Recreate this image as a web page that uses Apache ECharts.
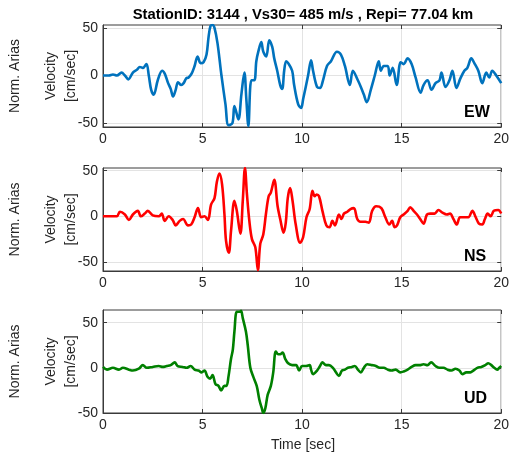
<!DOCTYPE html>
<html><head><meta charset="utf-8">
<script src="https://cdn.jsdelivr.net/npm/echarts@6/dist/echarts.min.js"></script>
<style>html,body{margin:0;padding:0;background:#fff}#c{width:512px;height:457px}</style>
</head><body><div id="c"></div>
<script>
const titleText = 'StationID: 3144 , Vs30= 485 m/s , Repi= 77.04 km';
const xTicks = [0, 5, 10, 15, 20];
const yTicks = [-50, 0, 50];
const componentNames = ['EW', 'NS', 'UD'];
const lineColors = ['#0072BD', '#FF0000', '#008000'];

const ewTime = [0,0.3,0.5,0.7,0.93,1.1,1.27,1.5,1.7,1.85,2.0,2.18,2.3,2.42,2.55,2.75,2.97,3.1,3.27,3.4,3.52,3.65,3.77,3.93,4.05,4.18,4.3,4.45,4.6,4.75,4.9,5.05,5.2,5.3,5.4,5.5,5.6,5.75,5.95,6.15,6.3,6.5,6.6,6.8,6.95,7.1,7.2,7.3,7.45,7.6,7.7,7.8,7.95,8.05,8.2,8.35,8.5,8.6,8.75,8.9,9.0,9.1,9.2,9.3,9.5,9.6,9.8,9.95,10.05,10.3,10.45,10.55,10.75,10.9,11.05,11.25,11.45,11.75,11.95,12.15,12.4,12.55,12.8,12.95,13.1,13.25,13.45,13.65,13.85,13.95,14.1,14.3,14.4,14.55,14.75,14.95,15.1,15.3,15.5,15.7,15.95,16.1,16.3,16.5,16.7,16.9,17.0,17.2,17.4,17.55,17.75,17.95,18.15,18.3,18.5,18.65,18.85,19.05,19.25,19.4,19.55,19.75,20];
const ewVel = [0,0,1,0,3,0,-4,3,6,9,8,12,0,-15,-20,-5,5,2,-8,-14,-22,-15,-7,-10,-8,-3,-2,2,10,20,13,14,22,40,52,53,50,34,0,-30,-52,-50,-32,-46,-20,3,-25,-53,-5,-5,15,25,35,25,20,37,30,18,5,-10,-14,5,15,13,5,-10,-30,-34,-25,0,16,5,-12,-13,-5,10,15,25,22,10,-10,5,-5,-12,-20,-28,-15,0,15,5,10,10,0,8,-10,14,12,18,12,-2,-18,-10,-5,-15,-8,-5,3,-12,-5,5,-13,-3,5,8,18,13,5,-8,3,-2,5,0,-8];

const nsTime = [0,0.4,0.7,0.85,1.1,1.3,1.5,1.75,1.9,2.1,2.25,2.5,2.8,2.95,3.1,3.3,3.5,3.65,3.85,4.02,4.27,4.43,4.6,4.77,4.93,5.1,5.27,5.43,5.6,5.72,5.85,5.98,6.1,6.18,6.32,6.43,6.6,6.72,6.9,7.02,7.13,7.23,7.35,7.48,7.65,7.78,7.9,8.05,8.18,8.32,8.43,8.6,8.77,8.9,9.07,9.18,9.28,9.4,9.52,9.68,9.9,10.05,10.22,10.38,10.52,10.63,10.73,10.85,11.02,11.22,11.38,11.52,11.65,11.85,11.98,12.1,12.27,12.43,12.6,12.77,12.93,13.18,13.35,13.52,13.72,13.98,14.18,14.38,14.52,14.65,14.77,14.93,15.1,15.3,15.43,15.6,15.77,15.93,16.1,16.27,16.43,16.65,16.85,17.05,17.27,17.43,17.6,17.77,17.93,18.15,18.35,18.55,18.72,18.88,19.05,19.18,19.32,19.47,19.63,19.85,20];
const nsVel = [0,0,0,5,2,-4,2,6,0,3,6,1,0,3,-5,0,-4,-10,-5,-3,-10,-9,-1,9,-1,0,-4,13,20,38,47,35,2,-27,-40,-16,17,6,-19,17,53,24,-5,-25,-34,-59,-30,-20,2,22,26,40,11,-3,-18,-7,20,31,17,-9,-29,-23,-1,8,28,22,24,22,6,-10,-12,-5,-10,2,-3,3,5,8,9,-3,-6,-6,-7,6,11,9,-1,-9,-5,-12,-10,-1,2,6,10,6,2,-3,-8,2,3,3,7,4,2,3,-3,-9,-1,-1,-1,6,-1,-8,-9,-3,3,0,6,7,3];

const udTime = [0,0.2,0.5,0.8,1.0,1.3,1.5,1.8,2.0,2.2,2.5,2.8,3.0,3.2,3.4,3.6,3.75,4.0,4.2,4.4,4.6,4.8,4.95,5.1,5.25,5.38,5.5,5.65,5.8,5.93,6.1,6.2,6.3,6.43,6.52,6.6,6.72,6.85,6.93,7.02,7.18,7.27,7.4,7.55,7.72,7.85,7.98,8.05,8.15,8.27,8.43,8.55,8.68,8.8,8.9,9.02,9.15,9.3,9.5,9.7,9.85,10.0,10.2,10.38,10.45,10.55,10.75,10.9,11.02,11.2,11.35,11.55,11.7,11.85,12.0,12.15,12.3,12.5,12.65,12.8,12.95,13.1,13.27,13.5,13.7,13.9,14.1,14.3,14.5,14.7,14.93,15.1,15.3,15.5,15.7,15.9,16.1,16.3,16.48,16.7,16.9,17.1,17.3,17.5,17.7,17.9,18.05,18.25,18.45,18.6,18.8,19.0,19.2,19.35,19.5,19.65,19.8,19.9,20];
const udVel = [1,-2,0,-2,0,-2,-3,-1,3,0,1,2,1,2,3,6,2,1,0,2,-2,-3,-5,-3,-10,-12,-8,-18,-20,-25,-20,-20,-10,10,20,40,62,62,63,55,40,25,0,-10,-20,-35,-45,-50,-45,-30,-20,-5,18,15,15,17,10,5,3,3,-3,2,2,3,-2,-7,-3,2,6,3,3,0,-5,-9,-3,-2,0,1,2,-2,-5,0,4,3,2,0,0,-2,-3,-2,-5,-4,-2,1,3,3,4,3,6,2,0,0,-2,-3,-1,-3,-7,-5,-5,-3,0,1,3,5,3,0,-2,0,2];

const yRanges = [[-54, 53], [-60, 53], [-50, 64]];
const times = [ewTime, nsTime, udTime];
const vels = [ewVel, nsVel, udVel];

const gridTops = [25, 168, 310];
const gridHeights = [102, 103, 103];
const axisColor = '#262626';
const fontFam = 'Liberation Sans, Arial, Helvetica, sans-serif';

const grids = [], xAxes = [], yAxes = [], series = [], graphics = [];
for (let i = 0; i < 3; i++) {
  grids.push({left: 103, top: gridTops[i], width: 400, height: gridHeights[i], show: true,
    borderColor: '#3a3a3a', borderWidth: 1, backgroundColor: 'transparent'});
  xAxes.push({type: 'value', gridIndex: i, min: 0, max: 20, interval: 5, position: 'bottom',
    axisLine: {show: true, onZero: false, lineStyle: {color: '#3a3a3a', width: 1}},
    axisTick: {show: true, inside: true, length: 4, lineStyle: {color: '#3a3a3a'}},
    axisLabel: {color: axisColor, fontSize: 14, fontFamily: fontFam, margin: 5},
    splitLine: {show: true, lineStyle: {color: '#e3e3e3', width: 1}}});
  xAxes.push({type: 'value', gridIndex: i, min: 0, max: 20, interval: 5, position: 'top',
    axisLine: {show: false, onZero: false}, axisTick: {show: true, inside: true, length: 4, lineStyle: {color: '#3a3a3a'}},
    axisLabel: {show: false}, splitLine: {show: false}});
  yAxes.push({type: 'value', gridIndex: i, min: yRanges[i][0], max: yRanges[i][1], position: 'left',
    axisLine: {show: true, onZero: false, lineStyle: {color: '#3a3a3a', width: 1}},
    axisTick: {show: true, inside: true, length: 4, customValues: yTicks, lineStyle: {color: '#3a3a3a'}},
    axisLabel: {color: axisColor, fontSize: 14, fontFamily: fontFam, margin: 5, customValues: yTicks},
    splitLine: {show: true, lineStyle: {color: '#e3e3e3', width: 1}}});
  yAxes.push({type: 'value', gridIndex: i, min: yRanges[i][0], max: yRanges[i][1], position: 'right',
    axisLine: {show: false, onZero: false},
    axisTick: {show: true, inside: true, length: 4, customValues: yTicks, lineStyle: {color: '#3a3a3a'}},
    axisLabel: {show: false, customValues: yTicks}, splitLine: {show: false}});
  series.push({type: 'line', xAxisIndex: 2 * i, yAxisIndex: 2 * i, showSymbol: false, smooth: 0.35,
    clip: true, lineStyle: {color: lineColors[i], width: 2.6}, z: 5,
    data: times[i].map((t, k) => [t, vels[i][k]])});
  const cy = gridTops[i] + gridHeights[i] / 2;
  graphics.push({type: 'text', x: 51, y: cy, rotation: Math.PI / 2,
    style: {text: 'Velocity', fontSize: 14, fontFamily: fontFam, fill: axisColor, align: 'center', verticalAlign: 'middle'}});
  graphics.push({type: 'text', x: 71, y: cy, rotation: Math.PI / 2,
    style: {text: '[cm/sec]', fontSize: 14, fontFamily: fontFam, fill: axisColor, align: 'center', verticalAlign: 'middle'}});
  graphics.push({type: 'text', x: 15, y: cy, rotation: Math.PI / 2,
    style: {text: 'Norm. Arias', fontSize: 14, fontFamily: fontFam, fill: axisColor, align: 'center', verticalAlign: 'middle'}});
  graphics.push({type: 'text', x: 464, y: gridTops[i] + gridHeights[i] - 14, z: 10,
    style: {text: componentNames[i], fontSize: 16, fontWeight: 'bold', fontFamily: fontFam, fill: '#000', align: 'left', verticalAlign: 'middle'}});
}
graphics.push({type: 'text', x: 303, y: 15,
  style: {text: titleText, fontSize: 14.8, fontWeight: 'bold', fontFamily: fontFam, fill: '#000', align: 'center', verticalAlign: 'middle'}});
graphics.push({type: 'text', x: 303, y: 445,
  style: {text: 'Time [sec]', fontSize: 14, fontFamily: fontFam, fill: axisColor, align: 'center', verticalAlign: 'middle'}});

const chart = echarts.init(document.getElementById('c'), null, {renderer: 'canvas'});
chart.setOption({animation: false, backgroundColor: '#fff', grid: grids, xAxis: xAxes, yAxis: yAxes, series: series, graphic: graphics});
</script></body></html>
